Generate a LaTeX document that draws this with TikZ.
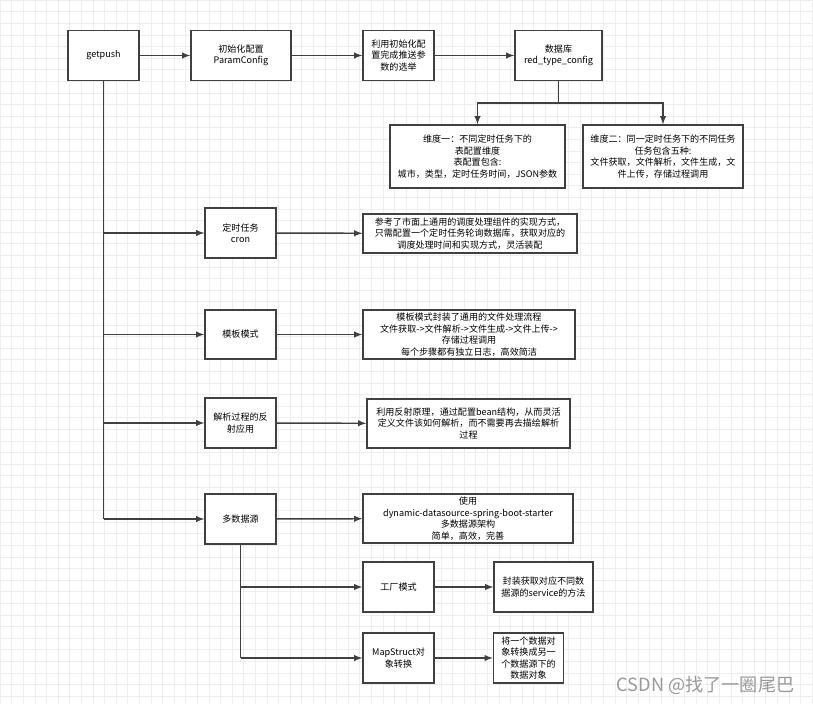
\documentclass[tikz,border=0pt]{standalone}
\usepackage{fontspec}
\setmainfont{Noto Sans CJK SC}
\tikzset{>=latex}

\begin{document}
\begin{tikzpicture}[x=0.75pt,y=-0.75pt,
    font=\fontsize{6.8}{8.6}\selectfont,
    box/.style 2 args={draw=black!75, line width=1.1pt, fill=white, align=center,
      inner sep=1pt, minimum width=#1*0.75pt, minimum height=#2*0.75pt},
    link/.style={draw=black!75, line width=1.1pt}]
  \useasboundingbox (0,0) rectangle (813,704);
  \fill[white] (0,0) rectangle (813,704);
  \draw[black!7, step=8.7pt] (0,0) grid (813,704);

  % top row
  \node[box={71}{50}] (getpush) at (103.5,55.5) {getpush};
  \node[box={100}{50}] (param) at (241,55.5) {初始化配置\\ParamConfig};
  \node[box={71}{50}] (choose) at (398.5,55.5) {利用初始化配\\置完成推送参\\数的选举};
  \node[box={87}{50}] (db) at (558.5,55.5) {数据库\\red\_type\_config};
  \node[box={175}{63}] (dimone) at (477.5,156.5) {维度一：不同定时任务下的\\表配置维度\\表配置包含:\\城市，类型，定时任务时间，JSON参数};
  \node[box={160}{63}] (dimtwo) at (663,156.5) {维度二：同一定时任务下的不同任务\\任务包含五种:\\文件获取，文件解析，文件生成，文\\件上传，存储过程调用};

  % left column
  \node[box={71}{50}] (cron) at (240.5,233) {定时任务\\cron};
  \node[box={214}{39}] (crondesc) at (470,233.5) {参考了市面上通用的调度处理组件的实现方式，\\只需配置一个定时任务轮询数据库，获取对应的\\调度处理时间和实现方式，灵活装配};
  \node[box={71}{49}] (tpl) at (240.5,334.5) {模板模式};
  \node[box={212}{49}] (tpldesc) at (469,334.5) {模板模式封装了通用的文件处理流程\\文件获取->文件解析->文件生成->文件上传->\\存储过程调用\\每个步骤都有独立日志，高效简洁};
  \node[box={71}{50}] (refl) at (240.5,423) {解析过程的反\\射应用};
  \node[box={203}{49}] (refldesc) at (468.5,423.5) {利用反射原理，通过配置bean结构，从而灵活\\定义文件该如何解析，而不需要再去描绘解析\\过程};
  \node[box={71}{50}] (multi) at (240.5,519) {多数据源};
  \node[box={210}{49}] (multidesc) at (468,518.5) {使用\\dynamic-datasource-spring-boot-starter\\多数据源架构\\简单，高效，完善};
  \node[box={71}{50}] (factory) at (398.5,587) {工厂模式};
  \node[box={99}{50}] (factdesc) at (543.5,587) {封装获取对应不同数\\据源的service的方法};
  \node[box={71}{50}] (mapper) at (398.5,658) {MapStruct对\\象转换};
  \node[box={70}{50}] (mapdesc) at (528.5,658) {将一个数据对\\象转换成另一\\个数据源下的\\数据对象};

  \node[text=black!40, font=\fontsize{13.6}{13.6}\selectfont, anchor=east] (mark) at (799,685) {CSDN @找了一圈尾巴};

  % connectors
  \draw[link,->] (getpush) -- (param);
  \draw[link,->] (param) -- (choose);
  \draw[link,->] (choose) -- (db);
  \coordinate (split) at (558.5,103);
  \draw[link] (db.south) -- (split);
  \draw[link,->] (split) -| (dimone.north);
  \draw[link,->] (split) -| (dimtwo.north);

  \coordinate (trunk) at (getpush.south |- multi.west);
  \draw[link] (getpush.south) -- (trunk);
  \draw[link,->] (getpush.south |- cron.west) -- (cron.west);
  \draw[link,->] (getpush.south |- tpl.west) -- (tpl.west);
  \draw[link,->] (getpush.south |- refl.west) -- (refl.west);
  \draw[link,->] (trunk) -- (multi.west);

  \draw[link,->] (cron) -- (crondesc);
  \draw[link,->] (tpl) -- (tpldesc);
  \draw[link,->] (refl) -- (refldesc);
  \draw[link,->] (multi) -- (multidesc);

  \coordinate (subtrunk) at (multi.south |- mapper.west);
  \draw[link] (multi.south) -- (subtrunk);
  \draw[link,->] (multi.south |- factory.west) -- (factory.west);
  \draw[link,->] (subtrunk) -- (mapper.west);
  \draw[link,->] (factory) -- (factdesc);
  \draw[link,->] (mapper) -- (mapdesc);
\end{tikzpicture}
\end{document}
